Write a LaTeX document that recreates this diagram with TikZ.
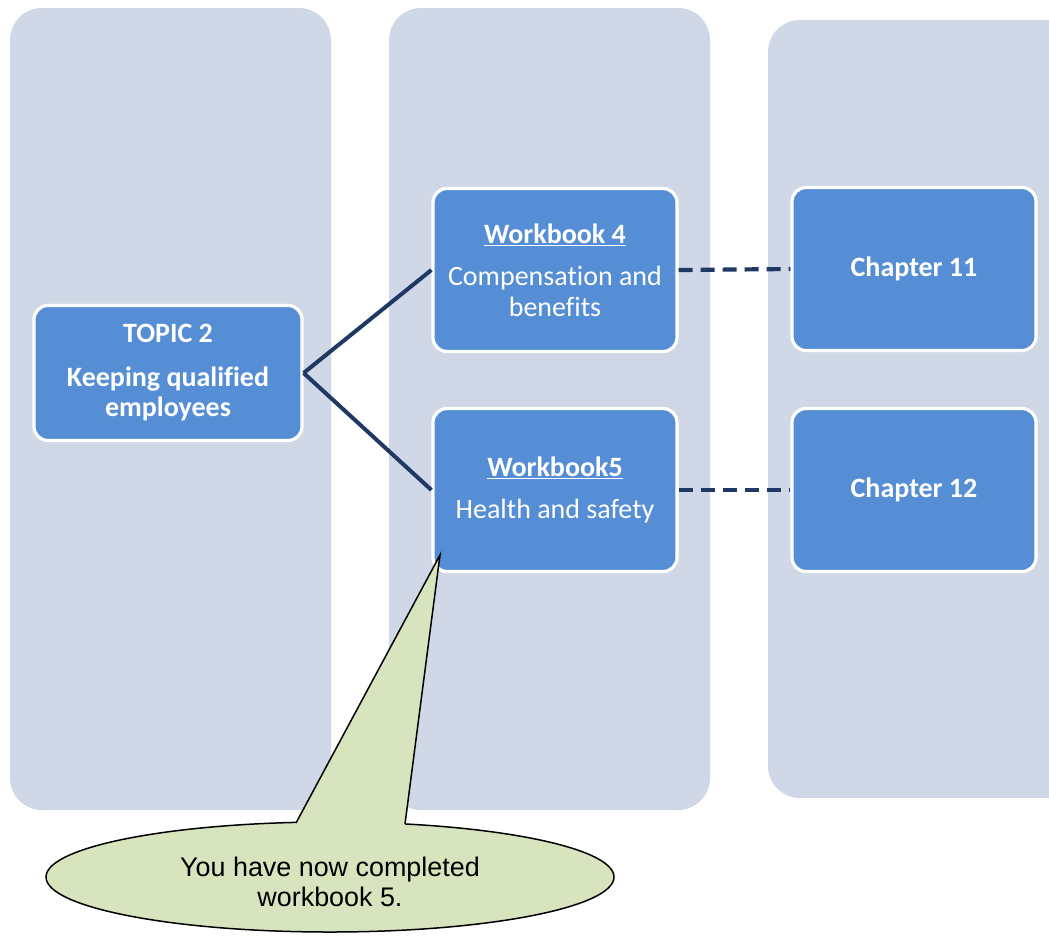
\documentclass[tikz,border=0pt]{standalone}
\usepackage{fontspec}
\setmainfont{Carlito}[Ligatures=NoCommon]
\newfontfamily\arialfont{Liberation Sans}
\usetikzlibrary{shapes.geometric,calc}
\definecolor{colbg}{HTML}{D0D8E8}
\definecolor{boxblue}{HTML}{558ED5}
\definecolor{navy}{HTML}{1F3864}
\definecolor{calloutgreen}{HTML}{D7E4BD}
\tikzset{
  colbox/.style={fill=colbg, rounded corners=32pt},
  bluebox/.style={rectangle, rounded corners=14pt, fill=boxblue, draw=white, line width=3.2pt,
    text=white, align=center, inner sep=2pt,
    font=\fontsize{28}{31}\selectfont},
  conn/.style={draw=navy, line width=4pt},
  dashconn/.style={draw=navy, line width=4.2pt, dash pattern=on 14pt off 8pt},
}
\begin{document}
\begin{tikzpicture}[x=1pt,y=-1pt]
\useasboundingbox (0,0) rectangle (1049,935);
% columns
\fill[colbox] (10,8) rectangle (331,810);
\fill[colbox] (389,8) rectangle (710,810);
\fill[colbox] (768,20) rectangle (1085,798);
% nodes
\node[bluebox, minimum width=268pt, minimum height=135pt] (topic) at (168,373)
  {\textbf{TOPIC 2}\\[13pt]\textbf{Keeping qualified}\\[-1pt]\textbf{employees}};
\node[bluebox, minimum width=244pt, minimum height=163pt] (wb4) at (555,270)
  {\textbf{\underline{Workbook 4}}\\[11pt]Compensation and\\[0pt]benefits};
\node[bluebox, minimum width=244pt, minimum height=163pt] (wb5) at (555,490)
  {\textbf{\underline{Workbook5}}\\[11pt]Health and safety};
\node[bluebox, minimum width=244pt, minimum height=163pt] (ch11) at (914,269)
  {\textbf{Chapter 11}};
\node[bluebox, minimum width=244pt, minimum height=163pt] (ch12) at (914,490)
  {\textbf{Chapter 12}};
% connectors
\draw[conn] (topic.east) -- (wb4.west);
\draw[conn] (topic.east) -- (wb5.west);
\draw[dashconn] (wb4.east) -- (ch11.west);
\draw[dashconn] (wb5.east) -- (ch12.west);
% callout
\coordinate (tip) at (440,555);
\coordinate (bl) at (296,823);
\coordinate (br) at (405,824);
\filldraw[fill=calloutgreen, draw=black, line width=1.5pt] (330,877) ellipse [x radius=284, y radius=55];
\fill[calloutgreen] (tip) -- ($(tip)!1.04!(bl)$) -- ($(tip)!1.04!(br)$) -- cycle;
\draw[black, line width=1.5pt, line join=miter] (bl) -- (tip) -- (br);
\node[align=center, font=\arialfont\fontsize{26.9}{30}\selectfont] (msg) at (330,882)
  {You have now completed\\workbook 5.};
\end{tikzpicture}
\end{document}
